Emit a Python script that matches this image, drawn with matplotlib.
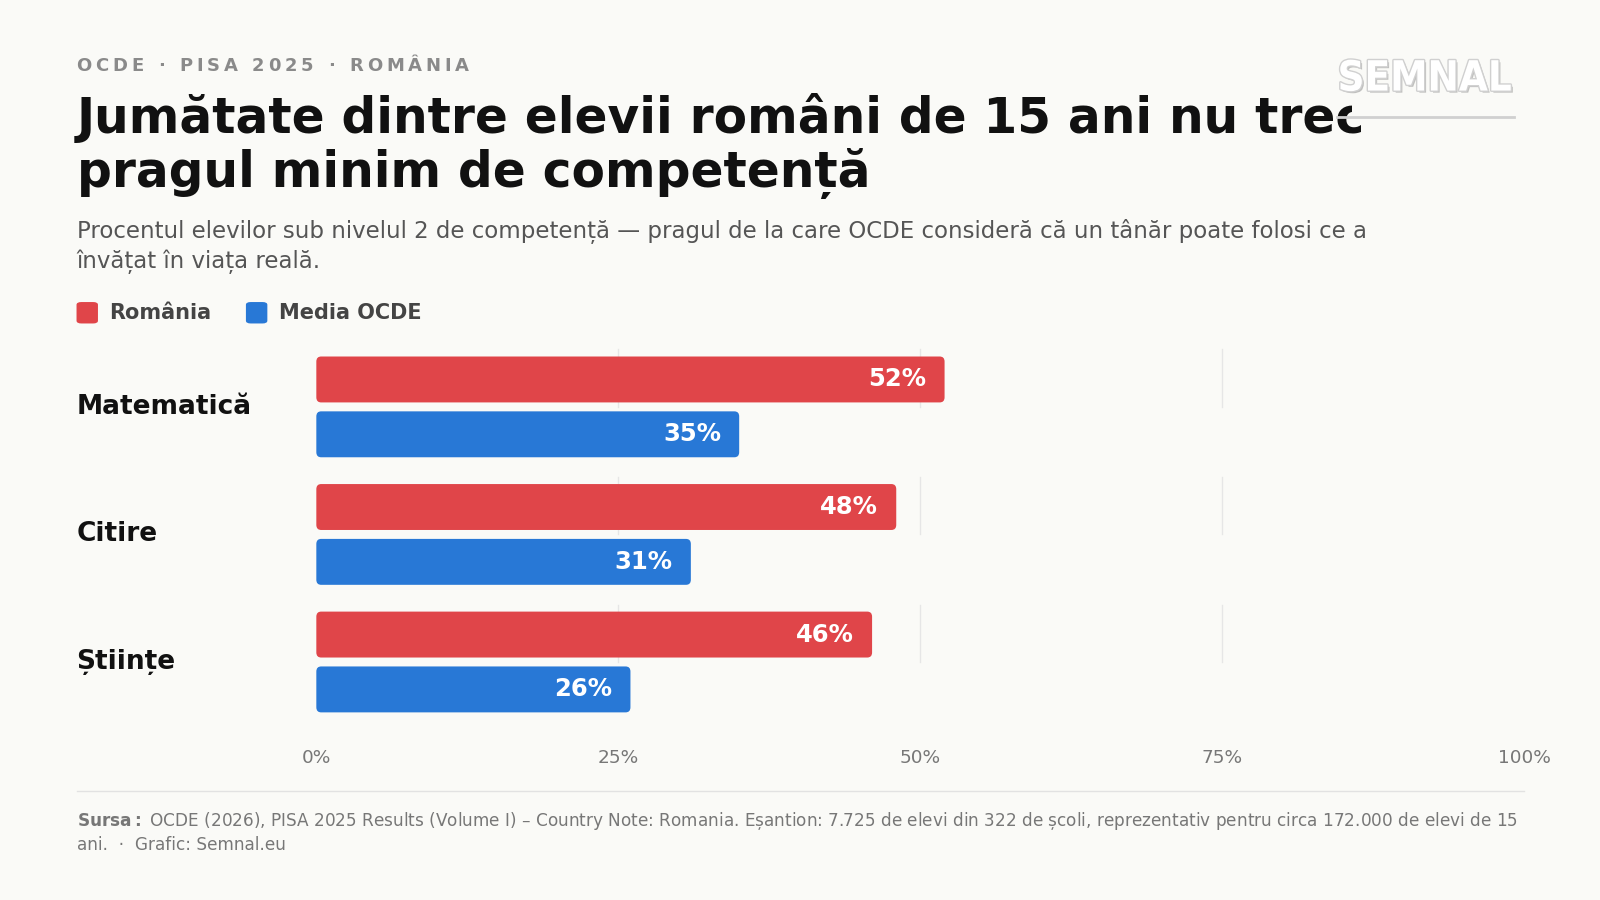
import matplotlib
matplotlib.use("Agg")
import matplotlib.pyplot as plt
import matplotlib.patheffects as pe
from matplotlib.patches import FancyBboxPatch

categories = ["Matematică", "Citire", "Științe"]
romania = [52, 48, 46]
ocde = [35, 31, 26]
ticks = [0, 25, 50, 75, 100]
tick_labels = ["0%", "25%", "50%", "75%", "100%"]

RED = "#e04549"; BLUE = "#2878d6"; BG = "#fafaf7"
W, H = 1568, 882
def fx(px): return px / W
def fy(py): return 1 - py / H

fig = plt.figure(figsize=(16, 9), dpi=100, facecolor=BG)
plt.rcParams['font.family'] = ['DejaVu Sans']
renderer = fig.canvas.get_renderer()

x = fx(75)
for ch in "OCDE · PISA 2025 · ROMÂNIA":
    t = fig.text(x, fy(65), ch, fontsize=13, fontweight="bold", color="#8a8a8a", va="center", ha="left")
    w = t.get_window_extent(renderer).width / fig.bbox.width if ch != " " else 0.0042
    x += w + 0.0024

fig.text(fx(75), fy(116), "Jumătate dintre elevii români de 15 ani nu trec", fontsize=35,
         fontweight="bold", color="#111", va="center")
fig.text(fx(75), fy(170), "pragul minim de competență", fontsize=35, fontweight="bold",
         color="#111", va="center")
fig.patches.append(plt.Rectangle((fx(1325), fy(114)), fx(200), 80 / H, transform=fig.transFigure,
                                 facecolor=BG, edgecolor="none", zorder=5))
fig.text(fx(1396), fy(77), "SEMNAL", fontsize=30, fontweight="bold", color="white", ha="center",
         va="center", zorder=6, family="DejaVu Sans", stretch="condensed",
         path_effects=[pe.withSimplePatchShadow(offset=(1.5, -1.5), shadow_rgbFace="#888", alpha=0.5),
                       pe.withStroke(linewidth=2, foreground="#d0d0d0")])
fig.add_artist(plt.Line2D([fx(1310), fx(1484)], [fy(115), fy(115)], transform=fig.transFigure,
                          color="#d0d0d0", lw=2, zorder=6))
fig.text(fx(75), fy(227), "Procentul elevilor sub nivelul 2 de competență — pragul de la care OCDE consideră că un tânăr poate folosi ce a",
         fontsize=16.5, color="#555", va="center")
fig.text(fx(75), fy(257), "învățat în viața reală.", fontsize=16.5, color="#555", va="center")

for x0, col, lab in [(75, RED, "România"), (241, BLUE, "Media OCDE")]:
    fig.patches.append(FancyBboxPatch((fx(x0), fy(317)), fx(21), 21 / H, boxstyle="round,pad=0,rounding_size=0.003",
                                      transform=fig.transFigure, facecolor=col, edgecolor="none"))
    fig.text(fx(x0 + 32), fy(307), lab, fontsize=15, fontweight="bold", color="#444", va="center")

ax = fig.add_axes([fx(310), fy(715), fx(1494) - fx(310), (715 - 340) / H])
ax.set_facecolor(BG)
ax.set_xlim(0, 100)
ax.set_ylim(3, 0)
bh = 0.36
blend = matplotlib.transforms.blended_transform_factory(fig.transFigure, ax.transData)
for i, cat in enumerate(categories):
    yc = i + 0.47
    ry, by = yc - 0.215, yc + 0.215
    for t in ticks[1:-1]:
        ax.plot([t, t], [yc - 0.45, yc + 0.0], color="#e6e6e6", lw=1, zorder=0)
    for y, v, col in [(ry, romania[i], RED), (by, ocde[i], BLUE)]:
        ax.add_patch(FancyBboxPatch((0, y - bh / 2), v, bh, boxstyle="round,pad=0,rounding_size=0.4",
                                    mutation_aspect=0.1, facecolor=col, edgecolor="none", zorder=2))
        ax.text(v - 1.5, y, f"{v}%", ha="right", va="center", color="white", fontsize=17.5,
                fontweight="bold", zorder=3)
    ax.text(fx(75), yc, cat, transform=blend, fontsize=19, fontweight="bold", color="#111", va="center")
ax.set_xticks(ticks)
ax.set_xticklabels(tick_labels, fontsize=13.3, color="#777")
ax.tick_params(length=0, pad=14)
ax.set_yticks([])
for s in ax.spines.values():
    s.set_visible(False)

fig.add_artist(plt.Line2D([fx(75), fx(1494)], [fy(775), fy(775)], transform=fig.transFigure,
                          color="#e2e2e2", lw=1))
fig.text(fx(75), fy(805), r"$\bf{Sursa:}$ OCDE (2026), PISA 2025 Results (Volume I) – Country Note: Romania. Eșantion: 7.725 de elevi din 322 de școli, reprezentativ pentru circa 172.000 de elevi de 15",
         fontsize=12.2, color="#777", va="center")
fig.text(fx(75), fy(828), "ani.  ·  Grafic: Semnal.eu", fontsize=12.2, color="#777", va="center")

fig.savefig("out.png", dpi=100, facecolor=BG)
